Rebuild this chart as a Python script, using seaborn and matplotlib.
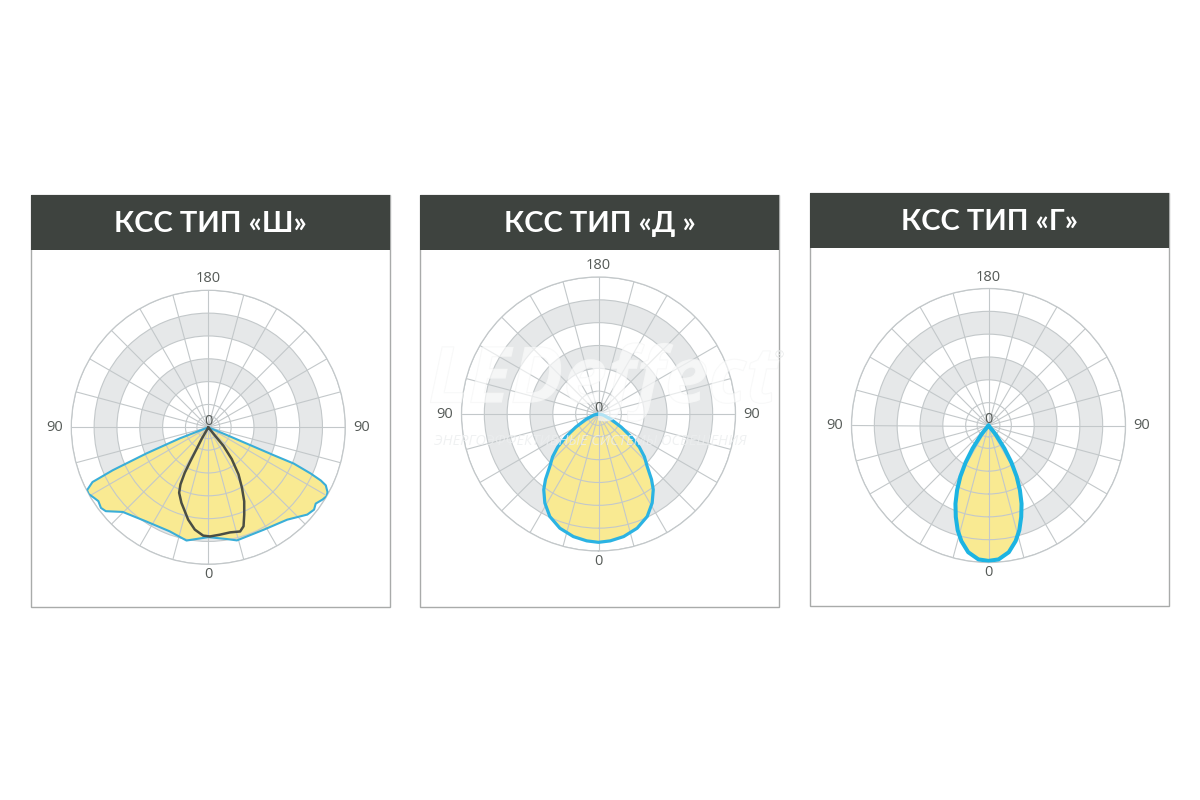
import numpy as np
import matplotlib
matplotlib.use("Agg")
import matplotlib.pyplot as plt
import seaborn as sns
from matplotlib.patches import Rectangle
import matplotlib.patheffects as pe

sns.set_theme(style="white")
plt.rcParams["font.family"] = ["Open Sans", "DejaVu Sans"]

# ---------------- data (angle in degrees from nadir, left negative; r in grid rings) ----
titles = ["КСС ТИП «Ш»", "КСС ТИП «Д »", "КСС ТИП «Г»"]
label_top = "180"
label_side = "90"
label_bottom = "0"
label_center = "0"

sh_wide_deg = [-71, -68.8, -67.1, -65.8, -64.7, -62.6, -60.9, -58.3, -56.1, -53.1,
               -50.7, -45.3, -33.5, -20.4, -10.9, 0, 9.4, 14.2, 28.4, 40.5,
               48.6, 52.1, 54.6, 57.7, 59.9, 61.5, 63.7, 64.7, 65.7, 67.0,
               66.9, 67.0, 67.3, 69]
sh_wide_r = [0, 1.34, 2.95, 4.59, 5.61, 5.98, 6.0, 5.88, 5.80, 5.88,
             5.80, 5.27, 4.94, 4.86, 5.05, 4.81, 4.96, 5.11, 5.10, 5.32,
             5.78, 5.87, 5.77, 5.92, 6.0, 5.94, 5.74, 5.45, 4.92, 4.07,
             3.12, 2.0, 0.88, 0]

sh_narrow_deg = [-30, -29.7, -28.3, -27.9, -27.4, -26.0, -24.0, -19.6, -15.6, -12.3,
                 -7.5, -2.7, 0.9, 6.2, 11.7, 17.0, 19.6, 22.4, 25.9, 29.1,
                 32.7, 36.4, 39.3, 38.7, 40]
sh_narrow_r = [0, 0.59, 1.09, 1.66, 2.24, 2.78, 3.14, 3.51, 3.82, 4.14,
               4.52, 4.75, 4.78, 4.73, 4.70, 4.77, 4.60, 4.13, 3.60, 3.03,
               2.45, 1.73, 1.04, 0.47, 0]

d_deg = [-90, -78, -67, -60, -55, -51, -47, -43, -39, -35.9, -31.1, -25.4, -18.7,
         -11.6, -5.3, 0, 5.3, 11.6, 18.7, 25.4, 31.1, 35.9, 39, 43, 47, 51, 55,
         60, 67, 78, 90]
d_r = [0, 0.2, 0.6, 1.15, 1.75, 2.3, 2.75, 3.12, 3.69, 4.09, 4.55, 4.97, 5.28,
       5.48, 5.58, 5.62, 5.58, 5.48, 5.28, 4.97, 4.55, 4.09, 3.69, 3.12, 2.75, 2.3,
       1.75, 1.15, 0.6, 0.2, 0]

g_deg = [-45, -38.7, -34.7, -31.8, -28.9, -25.9, -22.9, -19.7, -16.4, -13.2, -9.1,
         -4.3, 0, 4.3, 9.1, 13.2, 16.4, 19.7, 22.9, 25.9, 28.9, 31.8, 34.7, 38.7, 45]
g_r = [0, 0.5, 1.22, 1.9, 2.55, 3.15, 3.72, 4.25, 4.78, 5.2, 5.62,
       5.88, 5.93, 5.88, 5.62, 5.2, 4.78, 4.25, 3.72, 3.15, 2.55, 1.9, 1.22, 0.5, 0]

# ---------------- styling ----------------
W, H = 1200, 800
HEADER = "#3e433f"
BORDER = "#a9abaa"
BAND = "#e6e8e9"
GRID = "#c3c8ca"
YELLOW = "#f9ea92"
TICK = "#555a57"
R_PX = 137

panels = [
    dict(x0=31, x1=390, y0=195, y1=607, cx=208.3, cy=427.3,
         curves=[(sh_wide_deg, sh_wide_r, "#3aaed8", 1.5, True),
                 (sh_narrow_deg, sh_narrow_r, "#4a4e45", 1.8, False)]),
    dict(x0=420, x1=779, y0=195, y1=607, cx=598.5, cy=414.0,
         curves=[(d_deg, d_r, "#2bb3e3", 2.3, True)]),
    dict(x0=810, x1=1169, y0=193, y1=606, cx=988.5, cy=425.5,
         curves=[(g_deg, g_r, "#1db4e2", 2.9, True)]),
]

fig = plt.figure(figsize=(12, 8), dpi=100)
fig.patch.set_facecolor("white")

for i, p in enumerate(panels):
    x0, x1, y0, y1 = p["x0"], p["x1"], p["y0"], p["y1"]
    fig.add_artist(Rectangle((x0 / W, 1 - y1 / H), (x1 - x0) / W, (y1 - y0) / H,
                             transform=fig.transFigure, fill=False, ec=BORDER, lw=1.0))
    fig.add_artist(Rectangle((x0 / W, 1 - (y0 + 55) / H), (x1 - x0) / W, 55 / H,
                             transform=fig.transFigure, fc=HEADER, ec="none"))
    fig.text((x0 + x1) / 2 / W, 1 - (y0 + 29) / H, titles[i], ha="center", va="center",
             color="white", fontsize=21, fontweight="bold",
             family=["Lato", "DejaVu Sans"])

    cx, cy = p["cx"], p["cy"]
    ax = fig.add_axes([(cx - R_PX) / W, 1 - (cy + R_PX) / H, 2 * R_PX / W, 2 * R_PX / H],
                      projection="polar")
    ax.set_theta_zero_location("S")
    ax.set_theta_direction(1)
    ax.set_facecolor("white")
    ax.set_ylim(0, 6)
    ax.set_axisbelow(False)

    # shaded rings
    for b in (2, 4):
        ax.bar(0, 1, width=2 * np.pi, bottom=b, color=BAND, edgecolor="none", zorder=0.5)

    ax.set_thetagrids(np.arange(0, 360, 15))
    ax.set_xticklabels([])
    ax.set_rgrids([0.5, 1, 2, 3, 4, 5, 6])
    ax.set_yticklabels([])
    ax.grid(True, color=GRID, lw=0.8)
    ax.spines["polar"].set_color(GRID)
    ax.spines["polar"].set_linewidth(0.9)

    for deg, r, col, lw, filled in p["curves"]:
        th = np.deg2rad(deg)
        if filled:
            ax.fill(th, r, color=YELLOW, zorder=1, lw=0)
        sns.lineplot(x=th, y=r, ax=ax, sort=False, estimator=None, color=col,
                     lw=lw, zorder=3)
    ax.set_xlabel("")
    ax.set_ylabel("")

    # angle labels
    ax.text(np.pi, 6.5, label_top, ha="center", va="center", fontsize=10.5, color=TICK)
    ax.text(np.deg2rad(-90), 6.75, label_side, ha="center", va="center", fontsize=10.5, color=TICK)
    ax.text(np.deg2rad(90), 6.7, label_side, ha="center", va="center", fontsize=10.5, color=TICK)
    ax.text(0, 6.45, label_bottom, ha="center", va="center", fontsize=10.5, color=TICK)
    ax.annotate(label_center, xy=(0, 0), xytext=(0, 4), textcoords="offset points",
                ha="center", va="center", fontsize=10.5, color=TICK, zorder=4)

# very faint watermark over the middle chart
fig.text(603 / W, 1 - 382 / H, "LEDeffect", ha="center", va="center", fontsize=56,
         fontstyle="italic", fontweight="bold", color="white", alpha=0.4, zorder=10,
         path_effects=[pe.withStroke(linewidth=0.8, foreground="#ebeded")])
fig.text(779 / W, 1 - 356 / H, "®", ha="center", va="center", fontsize=8,
         color="#e6e8e8", zorder=10)
fig.text(590 / W, 1 - 441 / H, "ЭНЕРГОЭФФЕКТИВНЫЕ СИСТЕМЫ ОСВЕЩЕНИЯ", ha="center",
         va="center", fontsize=10.5, fontstyle="italic", color="#eceeef", alpha=0.8, zorder=10)

fig.savefig("out.png", dpi=100, facecolor="white")
